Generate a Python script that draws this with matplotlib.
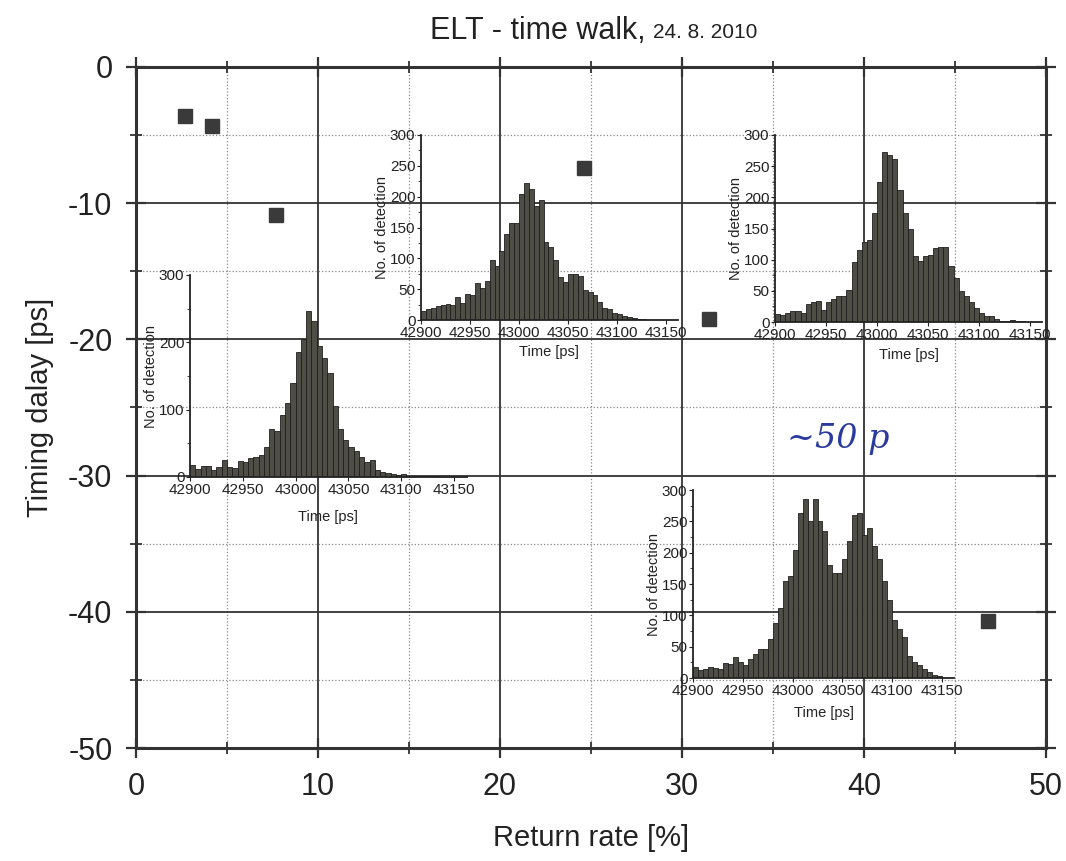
import numpy as np
import matplotlib.pyplot as plt
from matplotlib.ticker import MultipleLocator

# main scatter: return rate vs timing delay
rate = [2.7, 4.2, 7.7, 24.6, 31.5, 46.8]
delay = [-3.6, -4.3, -10.9, -7.4, -18.5, -40.7]

# histograms, 5 ps bins starting at 42900
bin_start = 42900
bin_w = 5
hist_a = [18, 12, 17, 16, 10, 15, 25, 15, 14, 24, 23, 28, 29, 33, 45, 72, 68, 92, 110, 140,
          185, 205, 247, 232, 195, 176, 155, 105, 72, 55, 45, 38, 30, 22, 25, 10, 8, 6, 4, 3,
          5, 2, 1, 1, 1, 1]
hist_b = [15, 18, 19, 22, 25, 26, 25, 38, 27, 42, 40, 60, 52, 63, 98, 88, 112, 140, 158, 158,
          205, 222, 212, 185, 195, 127, 118, 98, 70, 62, 75, 75, 72, 48, 45, 40, 30, 20, 18, 12,
          10, 7, 5, 3, 2, 1]
hist_c = [13, 11, 14, 18, 18, 15, 29, 32, 33, 20, 32, 37, 42, 42, 52, 97, 116, 128, 132, 175,
          225, 272, 268, 261, 212, 175, 150, 106, 98, 106, 108, 119, 120, 120, 90, 70, 50, 42, 32, 22,
          15, 10, 10, 5, 2, 2, 3, 1, 1]
hist_d = [18, 12, 14, 18, 16, 15, 24, 22, 34, 26, 20, 30, 38, 46, 46, 63, 88, 112, 155, 163,
          205, 263, 285, 250, 285, 250, 235, 180, 168, 168, 190, 218, 260, 263, 228, 240, 210, 190, 155, 125,
          92, 78, 65, 35, 25, 20, 15, 10, 5, 3]

plt.rcParams['font.family'] = ['Liberation Sans', 'DejaVu Sans']
plt.rcParams['axes.unicode_minus'] = False

W, H = 1066, 861
fig = plt.figure(figsize=(W / 100, H / 100), dpi=100)
ax = fig.add_axes([136 / W, 1 - 748 / H, (1046 - 136) / W, (748 - 67) / H])

ax.set_xlim(0, 50)
ax.set_ylim(-50, 0)
ax.xaxis.set_major_locator(MultipleLocator(10))
ax.xaxis.set_minor_locator(MultipleLocator(5))
ax.yaxis.set_major_locator(MultipleLocator(10))
ax.yaxis.set_minor_locator(MultipleLocator(5))
ax.grid(which='major', color='#333333', linewidth=1.3, linestyle='-')
ax.grid(which='minor', color='#888888', linewidth=0.9, linestyle=':')
ax.tick_params(which='both', direction='inout', top=True, right=True, colors='#333333',
               labelcolor='#222222')
ax.tick_params(which='major', length=14, width=1.6, labelsize=22, pad=10)
ax.tick_params(which='minor', length=9, width=1.3)
for s in ax.spines.values():
    s.set_linewidth(2.2)
    s.set_color('#333333')
ax.set_xlabel('Return rate [%]', fontsize=21, labelpad=16, color='#222222')
ax.set_ylabel('Timing dalay [ps]', fontsize=21, labelpad=10, color='#222222')
ax.plot(rate, delay, 's', color='#3a3a3a', markersize=10, zorder=5)

fig.text(646 / W, 1 - 31 / H, 'ELT - time walk,', fontsize=22, ha='right', va='center',
         color='#222222')
fig.text(653 / W, 1 - 33 / H, '24. 8. 2010', fontsize=15, ha='left', va='center',
         color='#222222')

# handwritten note
ax.text(38.6, -27.3, '~50 p', fontsize=24, color='#2b3a9e', style='italic',
        ha='center', va='center', family='DejaVu Serif')


def inset(left, x150, top, bottom, data, step, xpad):
    px_per_ps = (x150 - left) / 250
    right = left + 262 * px_per_ps
    ia = fig.add_axes([left / W, 1 - bottom / H, (right - left) / W, (bottom - top) / H])
    ia.patch.set_alpha(0)
    edges = bin_start + bin_w * np.arange(len(data))
    ia.bar(edges, data, width=bin_w, align='edge', color='#4e4e46', edgecolor='#1e1e1e',
           linewidth=0.6)
    ia.set_xlim(42900, 43162)
    ia.set_ylim(0, 300)
    ia.set_xticks(range(42900, 43151, 50))
    ia.yaxis.set_major_locator(MultipleLocator(step))
    ia.yaxis.set_minor_locator(MultipleLocator(step / 2))
    for k in ('top', 'right'):
        ia.spines[k].set_visible(False)
    for k in ('left', 'bottom'):
        ia.spines[k].set_linewidth(1.3)
        ia.spines[k].set_color('#222222')
    ia.tick_params(which='both', direction='out', labelsize=11, colors='#222222', pad=1)
    ia.tick_params(which='major', length=3)
    ia.tick_params(which='minor', length=2)
    ia.set_xlabel('Time [ps]', fontsize=10.5, labelpad=xpad, color='#222222')
    ia.set_ylabel('No. of detection', fontsize=10.5, labelpad=1, color='#222222')
    return ia


inset(190, 454, 275, 477, hist_a, 100, 10)
inset(421, 666, 135, 320, hist_b, 50, 4)
inset(775, 1030, 135, 322, hist_c, 50, 5)
inset(693, 942, 490, 678, hist_d, 50, 6)

fig.savefig('out.png', dpi=100)
